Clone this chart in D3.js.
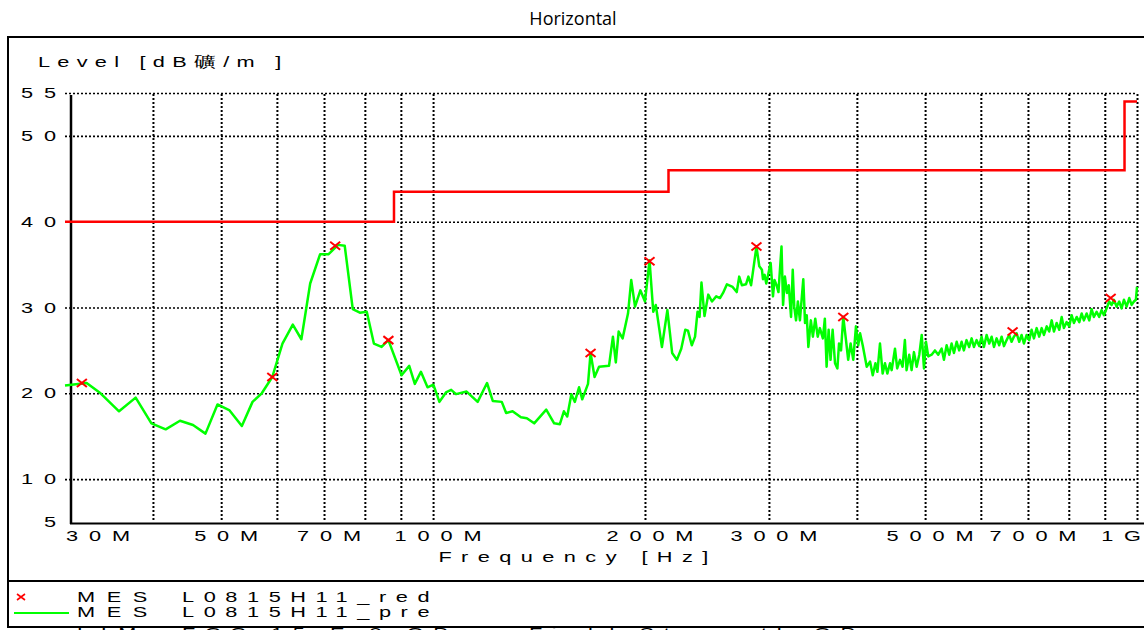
<!doctype html>
<html>
  <head>
    <script src="https://cdnjs.cloudflare.com/ajax/libs/d3/7.8.5/d3.min.js"></script>
    <style>
      body { margin: 0; background: #fff; }
      svg text { font-family: "Liberation Sans", Arial, sans-serif; }
    </style>
  </head>
  <body>
    <svg width="1144" height="630"></svg>
    <script>
        // tick positions and labels
        var yTicks = [5, 10, 20, 30, 40, 50, 55];
        var yGrid = [10, 20, 30, 40, 50, 55];
        var xGrid = [40, 50, 60, 70, 80, 90, 100, 200, 300, 400, 500, 600, 700, 800, 900, 1000];
        var xTicks = [30, 50, 70, 100, 200, 300, 500, 700, 1000];
        var xTickLabels = ["30M", "50M", "70M", "100M", "200M", "300M", "500M", "700M", "1G"];

        // limit line (FCC 15 class B, QP), MHz / dB
        var limitSteps = [[30, 40], [88, 43.5], [216, 46], [960, 54], [1000, 54]];

        // final measurement points (red x)
        var finalPoints = [[31.7, 21.2], [59.1, 21.9], [72.6, 37.2], [86.4, 26.2], [167.4, 24.7],
            [203.0, 35.4], [288.0, 37.1], [382.6, 28.9], [665.7, 27.2], [917.4, 31.1]];

        // pre scan (green), MHz / dB
        var preScan = [
            [30.0, 20.9], [32.2, 21.2], [33.7, 20.0], [35.8, 17.9], [37.8, 19.5], [39.8, 16.5], [41.7, 15.8],
            [43.7, 16.8], [45.6, 16.3], [47.5, 15.3], [49.4, 18.7], [51.4, 18.0], [53.5, 16.2], [55.4, 19.0],
            [57.1, 20.0], [59.1, 21.9], [61.1, 25.8], [63.2, 28.0], [65.0, 26.3], [66.9, 32.8], [69.1, 36.2],
            [71.0, 36.2], [73.3, 37.3], [74.9, 37.2], [76.9, 29.8], [78.7, 29.4], [80.5, 29.5], [82.4, 25.8],
            [84.5, 25.4], [86.4, 26.2], [90.2, 22.1], [92.5, 23.2], [94.2, 21.1], [96.1, 22.5], [98.2, 20.7],
            [100.1, 21.0], [102.1, 19.0], [104.3, 20.1], [106.1, 20.4], [107.8, 19.9], [111.6, 20.2], [115.7, 19.0],
            [119.3, 21.2], [121.6, 19.1], [125.2, 19.0], [127.0, 17.7], [129.7, 17.9], [133.3, 17.2], [135.9, 17.1],
            [139.2, 16.5], [144.8, 18.1], [148.6, 16.5], [151.4, 16.4], [153.4, 17.9], [155.1, 17.3], [157.2, 19.9],
            [159.0, 19.0], [161.2, 20.7], [162.9, 19.3], [166.0, 21.1], [167.4, 24.7], [169.6, 21.9], [172.1, 23.1],
            [177.8, 23.2], [180.1, 26.6], [181.8, 23.6], [183.5, 27.2], [185.9, 26.4], [189.2, 29.3], [191.2, 33.2],
            [193.6, 30.1], [197.0, 32.0], [200.0, 30.7], [203.0, 35.5], [205.5, 29.5], [207.2, 30.3], [211.4, 25.4],
            [215.2, 29.7], [218.6, 24.7], [222.0, 23.9], [225.2, 25.2], [228.2, 27.4], [230.2, 27.3], [233.1, 25.6],
            [235.6, 26.6], [237.5, 29.5], [239.1, 28.9], [240.6, 32.9], [243.0, 29.0], [246.0, 31.5], [249.0, 30.7],
            [252.5, 31.3], [255.6, 31.1], [258.2, 31.7], [261.5, 32.7], [266.4, 32.4], [270.0, 31.8], [272.2, 33.6],
            [274.6, 32.6], [278.3, 32.7], [280.5, 33.6], [283.0, 32.6], [288.0, 37.1], [290.7, 34.8], [293.2, 34.4],
            [294.2, 33.3], [295.8, 33.8], [297.4, 32.8], [301.7, 35.2], [304.0, 31.3], [305.5, 33.2], [307.6, 32.6],
            [309.5, 31.8], [312.6, 37.1], [314.2, 30.3], [316.1, 33.6], [318.2, 31.7], [320.1, 32.6], [322.5, 28.9],
            [324.3, 34.4], [325.9, 30.1], [327.8, 28.5], [329.8, 30.7], [332.0, 28.5], [335.7, 33.3], [337.6, 28.2],
            [339.5, 29.1], [341.3, 25.4], [344.1, 28.5], [346.4, 26.6], [349.1, 28.7], [351.9, 26.6], [354.4, 27.6],
            [357.9, 26.4], [360.2, 28.7], [362.3, 23.1], [364.7, 27.4], [367.0, 23.9], [369.5, 27.4], [372.4, 23.5],
            [375.3, 22.9], [377.3, 25.8], [379.8, 25.0], [382.6, 28.9], [386.0, 26.2], [388.8, 23.9], [391.9, 25.8],
            [395.3, 23.9], [398.8, 27.8], [401.8, 25.6], [404.2, 27.0], [407.7, 25.6], [413.1, 23.1], [417.6, 23.7],
            [421.3, 22.1], [425.0, 23.5], [427.8, 22.5], [431.4, 25.8], [435.2, 22.3], [438.5, 23.5], [441.9, 22.3],
            [445.8, 23.5], [448.2, 22.7], [453.1, 25.2], [456.4, 22.9], [460.6, 23.9], [464.5, 23.1], [468.0, 26.2],
            [470.6, 22.7], [474.7, 24.5], [478.4, 22.7], [482.1, 24.8], [486.4, 23.1], [490.6, 24.5], [494.5, 26.8],
            [498.2, 22.9], [501.4, 26.0], [505.2, 24.3], [510.8, 24.5], [516.4, 25.0], [522.0, 24.5], [527.8, 25.2],
            [531.8, 23.9], [536.5, 25.6], [541.1, 24.5], [545.3, 25.8], [549.5, 24.7], [554.4, 26.0], [559.0, 25.0],
            [563.4, 26.0], [567.6, 25.0], [572.6, 26.2], [577.6, 25.4], [582.2, 26.4], [586.6, 25.4], [591.7, 26.2],
            [596.8, 25.5], [601.5, 26.6], [606.1, 25.4], [611.4, 26.8], [616.7, 25.8], [621.6, 26.6], [626.4, 25.4],
            [631.8, 26.4], [637.2, 25.6], [642.2, 26.6], [647.2, 25.5], [652.8, 26.2], [658.3, 26.8], [663.5, 26.0],
            [668.5, 26.6], [674.4, 27.0], [680.3, 26.0], [685.6, 26.8], [690.8, 25.8], [697.0, 26.8], [702.9, 26.2],
            [708.4, 27.4], [713.8, 26.4], [720.2, 27.6], [726.2, 26.6], [732.1, 27.6], [737.6, 26.8], [744.3, 27.8],
            [750.4, 27.2], [756.5, 28.5], [762.1, 27.2], [768.9, 28.2], [775.5, 27.4], [781.6, 28.9], [787.3, 27.6],
            [794.4, 28.3], [801.2, 27.8], [807.5, 29.1], [813.5, 28.2], [820.9, 28.9], [828.0, 28.3], [834.4, 29.3],
            [840.6, 28.5], [848.1, 29.3], [855.4, 28.5], [862.0, 29.8], [868.4, 28.9], [876.2, 29.5], [883.7, 28.9],
            [890.6, 29.7], [897.5, 29.1], [905.4, 29.9], [913.1, 30.7], [920.3, 30.3], [927.3, 30.9], [935.4, 30.1],
            [943.4, 30.7], [950.9, 29.9], [958.1, 30.9], [966.6, 30.1], [975.0, 31.1], [982.6, 30.3], [990.0, 30.7],
            [996.4, 30.9], [1000, 32.4]
        ];

        var svg = d3.select("svg");

        var xScale = d3.scaleLog().domain([30, 1000]).range([65, 1137]);
        var yScale = d3.scaleLinear().domain([5, 55]).range([522, 93]);

        // stretched, wide spaced plotter font
        var sx = 1.45, ls = 7.5, fs = "15px";

        // outer frame
        svg.append("path")
            .attr("d", "M1150,37 H8 V627 H1150")
            .attr("fill", "none").attr("stroke", "#000").attr("stroke-width", 2);
        svg.append("line")
            .attr("x1", 8).attr("x2", 1150).attr("y1", 581).attr("y2", 581)
            .attr("stroke", "#000").attr("stroke-width", 2);

        svg.append("text")
            .attr("x", 573).attr("y", 25)
            .attr("text-anchor", "middle")
            .style("font-family", "'Open Sans', sans-serif")
            .style("font-size", "18px")
            .text("Horizontal");

        // grid
        var xGridAxis = d3.axisBottom(xScale)
            .tickValues(xGrid)
            .tickSize(-(yScale(5) - yScale(55)))
            .tickFormat("");
        var gx = svg.append("g")
            .attr("transform", "translate(0," + yScale(5) + ")")
            .call(xGridAxis);
        gx.select(".domain").remove();
        gx.selectAll("line")
            .attr("y1", -2)
            .attr("stroke", "#000").attr("stroke-width", 2).attr("stroke-dasharray", "2,2");

        var yGridAxis = d3.axisLeft(yScale)
            .tickValues(yGrid)
            .tickSize(-(xScale(1000) - xScale(30)))
            .tickFormat("");
        var gy = svg.append("g")
            .attr("transform", "translate(" + xScale(30) + ",0)")
            .call(yGridAxis);
        gy.select(".domain").remove();
        gy.selectAll("line")
            .attr("stroke", "#000").attr("stroke-width", 1.6).attr("stroke-dasharray", "2,2");

        // solid axis lines
        svg.append("line")
            .attr("x1", xScale(30) + 6).attr("x2", xScale(30) + 6)
            .attr("y1", yScale(55) + 2).attr("y2", yScale(5) + 2)
            .attr("stroke", "#000").attr("stroke-width", 2.5);
        svg.append("line")
            .attr("x1", xScale(30) + 5).attr("x2", 1150)
            .attr("y1", yScale(5) + 1.5).attr("y2", yScale(5) + 1.5)
            .attr("stroke", "#000").attr("stroke-width", 2);

        // tick labels
        svg.append("g").selectAll("text")
            .data(yTicks)
            .enter()
            .append("text")
            .attr("text-anchor", "end")
            .attr("transform", d => "translate(" + (xScale(30) + 2) + "," + (yScale(d) + 5) + ") scale(" + sx + ",1)")
            .style("font-size", fs)
            .style("letter-spacing", ls + "px")
            .text(d => d);

        var last = xTicks.length - 1;
        var xLabels = svg.append("g").selectAll("text")
            .data(xTicks)
            .enter()
            .append("text")
            .attr("text-anchor", (d, i) => i == 0 ? "start" : (i == last ? "end" : "middle"))
            .attr("transform", (d, i) => {
                var x = xScale(d) + 5 + ls * sx / 2;
                if (i == 0) x = xScale(d) + 1;
                if (i == last) x = xScale(d) + 4;
                return "translate(" + x + ",541) scale(" + sx + ",1)";
            })
            .style("font-size", fs)
            .style("letter-spacing", (d, i) => i == last ? "0px" : ls + "px")
            .text((d, i) => i == last ? null : xTickLabels[i]);

        // last label without trailing spacing, so it stays inside the page
        var lastLabel = xLabels.filter((d, i) => i == last);
        lastLabel.append("tspan").text(xTickLabels[last].slice(0, 1));
        lastLabel.append("tspan").attr("dx", ls).text(xTickLabels[last].slice(1));

        // axis titles
        svg.append("text")
            .attr("transform", "translate(38,67) scale(" + sx + ",1)")
            .style("font-size", fs)
            .style("letter-spacing", "5px")
            .text("Level [dB礦/m ]");

        svg.append("text")
            .attr("text-anchor", "middle")
            .attr("transform", "translate(" + (573 + 3.5 * sx) + ",562) scale(" + sx + ",1)")
            .style("font-size", fs)
            .style("letter-spacing", "6.5px")
            .text("Frequency [Hz]");

        // limit line
        var line = d3.line()
            .x(d => xScale(d[0]))
            .y(d => yScale(d[1]));

        svg.append("path")
            .datum(limitSteps)
            .attr("d", line.curve(d3.curveStepAfter))
            .attr("fill", "none")
            .attr("stroke", "#ff0000")
            .attr("stroke-width", 2.5);

        // pre scan
        svg.append("path")
            .datum(preScan)
            .attr("d", d3.line().x(d => xScale(d[0])).y(d => yScale(d[1])))
            .attr("fill", "none")
            .attr("stroke", "#00ff00")
            .attr("stroke-width", 2.5)
            .attr("stroke-linejoin", "round");

        // final points
        var marks = svg.append("g").selectAll("g")
            .data(finalPoints)
            .enter()
            .append("g")
            .attr("transform", d => "translate(" + xScale(d[0]) + "," + yScale(d[1]) + ")");
        marks.append("path")
            .attr("d", "M-5,-4L5,4M-5,4L5,-4")
            .attr("stroke", "#ff0000")
            .attr("stroke-width", 2);

        // legend
        svg.append("path")
            .attr("d", "M17,594L25,600M17,600L25,594")
            .attr("stroke", "#ff0000").attr("stroke-width", 1.6);
        svg.append("line")
            .attr("x1", 14).attr("x2", 69).attr("y1", 613).attr("y2", 613)
            .attr("stroke", "#00ff00").attr("stroke-width", 2);

        var legendRows = [
            ["MES", "L0815H11_red", 602],
            ["MES", "L0815H11_pre", 617],
            ["LIM", "FCC 15 E 3 QP", 638]
        ];
        legendRows.forEach(r => {
            svg.append("text")
                .attr("transform", "translate(77," + r[2] + ") scale(" + sx + ",1)")
                .style("font-size", fs)
                .style("letter-spacing", "8px")
                .text(r[0]);
            svg.append("text")
                .attr("transform", "translate(182," + r[2] + ") scale(" + sx + ",1)")
                .style("font-size", fs)
                .style("letter-spacing", "6.6px")
                .text(r[1]);
        });
        svg.append("text")
            .attr("transform", "translate(529,638) scale(" + sx + ",1)")
            .style("font-size", fs)
            .style("letter-spacing", "6.6px")
            .text("Field Strength QP");
    </script>
  </body>
</html>
